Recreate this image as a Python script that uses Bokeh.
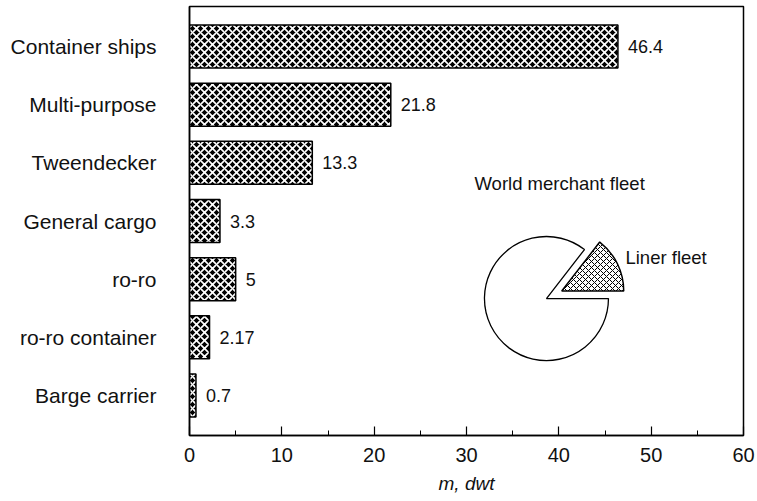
import numpy as np
from bokeh.plotting import figure
from bokeh.models import ColumnDataSource, Range1d, FixedTicker, Label
from bokeh.core.properties import value
from bokeh.embed import file_html
from bokeh.resources import INLINE

# ---- data ----
categories = ["Container ships", "Multi-purpose", "Tweendecker", "General cargo",
              "ro-ro", "ro-ro container", "Barge carrier"]
capacity = [46.4, 21.8, 13.3, 3.3, 5, 2.17, 0.7]
value_labels = ["46.4", "21.8", "13.3", "3.3", "5", "2.17", "0.7"]
x_ticks = [0, 10, 20, 30, 40, 50, 60]
pie_labels = ["Liner fleet", "Other"]
pie_shares = [14.5, 85.5]
pie_title = "World merchant fleet"
x_title = "m, dwt"

FONT = "Liberation Sans"

# ---- layout ----
W, H = 757, 500
MB_L, MB_R, MB_T, MB_B = 189, 14, 6, 65
frame_w = W - MB_L - MB_R
frame_h = H - MB_T - MB_B
y_lo, y_hi = -0.688, 6.688
x_lo, x_hi = 0, 60

ypos = list(range(len(categories) - 1, -1, -1))
src = ColumnDataSource(dict(y=ypos, x=capacity, lab=value_labels))

p = figure(width=W, height=H, x_range=Range1d(x_lo, x_hi), y_range=Range1d(y_lo, y_hi),
           output_backend="svg", toolbar_location=None,
           min_border_left=MB_L, min_border_right=MB_R,
           min_border_top=MB_T, min_border_bottom=MB_B)
p.background_fill_color = "white"
p.border_fill_color = "white"
p.outline_line_color = "black"
p.outline_line_width = 1.5
p.xgrid.visible = False
p.ygrid.visible = False

p.hbar(y="y", right="x", left=0, height=0.74, source=src,
       fill_color="black", hatch_pattern="diagonal_cross", hatch_color="white",
       hatch_scale=8, hatch_weight=1.7, line_color="black", line_width=1.5)

p.text(x="x", y="y", text="lab", source=src, x_offset=10,
       text_baseline="middle", text_align="left",
       text_font=value(FONT), text_font_size="18px", text_color="#111111")

# x axis
xa = p.xaxis[0]
xa.ticker = FixedTicker(ticks=x_ticks, minor_ticks=[t + 5 for t in x_ticks[:-1]])
xa.major_tick_in = 9
xa.major_tick_out = 0
xa.minor_tick_in = 5
xa.minor_tick_out = 0
xa.axis_line_width = 1.5
xa.major_tick_line_width = 1.2
xa.axis_line_color = "black"
xa.major_label_text_font = FONT
xa.major_label_text_font_size = "20px"
xa.major_label_text_color = "#111111"
xa.major_label_standoff = 12
xa.axis_label = x_title
xa.axis_label_text_font = FONT
xa.axis_label_text_font_size = "19px"
xa.axis_label_text_font_style = "italic"
xa.axis_label_text_color = "#111111"
xa.axis_label_standoff = 8

# y axis
ya = p.yaxis[0]
ya.ticker = FixedTicker(ticks=ypos)
ya.major_label_overrides = {yy: c for yy, c in zip(ypos, categories)}
ya.major_tick_line_color = None
ya.minor_tick_line_color = None
ya.axis_line_width = 1.5
ya.axis_line_color = "black"
ya.major_label_text_font = FONT
ya.major_label_text_font_size = "21px"
ya.major_label_text_color = "#111111"
ya.major_label_standoff = 27

# ---- inset pie ----
px_per_x = frame_w / (x_hi - x_lo)
px_per_y = frame_h / (y_hi - y_lo)
pie_cx = 38.66
pie_cy = 1.667
pie_r = 62
explode_px = 17

shares = np.array(pie_shares, dtype=float)
edges = np.concatenate([[0.0], np.cumsum(shares)]) / shares.sum() * 2 * np.pi
mid = (edges[0] + edges[1]) / 2
ex_x = pie_cx + explode_px * np.cos(mid) / px_per_x
ex_y = pie_cy + explode_px * np.sin(mid) / px_per_y

p.wedge(x=[pie_cx], y=[pie_cy], radius=pie_r, radius_units="screen",
        start_angle=[edges[1]], end_angle=[edges[2]],
        fill_color="white", line_color="black", line_width=1.3)
p.wedge(x=[ex_x], y=[ex_y], radius=pie_r, radius_units="screen",
        start_angle=[edges[0]], end_angle=[edges[1]],
        fill_color="white", hatch_pattern="diagonal_cross", hatch_color="black",
        hatch_scale=6, hatch_weight=1.0, line_color="black", line_width=1.5)

p.add_layout(Label(x=pie_cx, y=pie_cy, x_offset=-72, y_offset=115, text=pie_title,
                   text_baseline="middle", text_font=FONT, text_font_size="18.5px",
                   text_color="#111111"))
p.add_layout(Label(x=pie_cx, y=pie_cy, x_offset=79, y_offset=41, text=pie_labels[0],
                   text_baseline="middle", text_font=FONT, text_font_size="18.5px",
                   text_color="#111111"))

open("out.html", "w").write(file_html(p, INLINE))
